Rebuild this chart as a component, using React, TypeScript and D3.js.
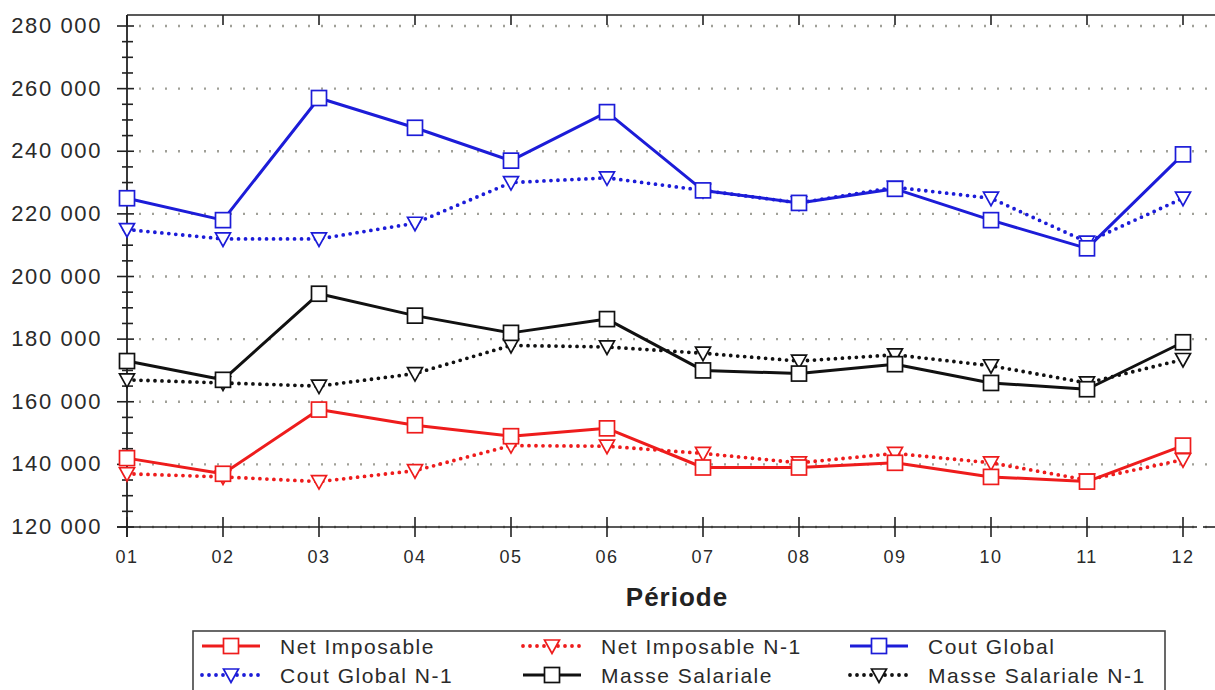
import React from "react";
import * as d3 from "d3";

const periods = ["01", "02", "03", "04", "05", "06", "07", "08", "09", "10", "11", "12"];
const netImposable = [142000, 137000, 157500, 152500, 149000, 151500, 139000, 139000, 140500, 136000, 134500, 146000];
const netImposableN1 = [137000, 136000, 134500, 138000, 146000, 145800, 143500, 140500, 143500, 140500, 135000, 141500];
const coutGlobal = [225000, 218000, 257000, 247500, 237000, 252500, 227500, 223500, 228000, 218000, 209000, 239000];
const coutGlobalN1 = [215000, 212000, 212000, 217000, 230000, 231500, 227500, 223500, 228500, 225000, 211000, 225000];
const masseSalariale = [173000, 167000, 194500, 187500, 182000, 186400, 170000, 169000, 172000, 166000, 164000, 179000];
const masseSalarialeN1 = [167000, 166000, 165000, 169000, 178000, 177500, 175500, 173000, 175000, 171500, 166000, 173500];
const yTicks = [120000, 140000, 160000, 180000, 200000, 220000, 240000, 260000, 280000];

const RED = "#ee1c1c";
const BLUE = "#1c1cd8";
const BLACK = "#111111";

type Series = { name: string; values: number[]; color: string; dotted: boolean };
const series: Series[] = [
  { name: "Masse Salariale N-1", values: masseSalarialeN1, color: BLACK, dotted: true },
  { name: "Masse Salariale", values: masseSalariale, color: BLACK, dotted: false },
  { name: "Cout Global N-1", values: coutGlobalN1, color: BLUE, dotted: true },
  { name: "Cout Global", values: coutGlobal, color: BLUE, dotted: false },
  { name: "Net Imposable N-1", values: netImposableN1, color: RED, dotted: true },
  { name: "Net Imposable", values: netImposable, color: RED, dotted: false },
];
const legendOrder = ["Net Imposable", "Net Imposable N-1", "Cout Global", "Cout Global N-1", "Masse Salariale", "Masse Salariale N-1"];

const W = 1215;
const H = 690;
const x0 = 127;
const x1 = 1183;
const yTop = 26;
const yBot = 527;

const x = d3.scalePoint<string>().domain(periods).range([x0, x1]);
const y = d3.scaleLinear().domain([120000, 280000]).range([yBot, yTop]);
const minorTicks = d3.range(120000, 280001, 5000).filter((v) => v % 20000 !== 0);

const fmt = (v: number) => d3.format(",")(v).replace(/,/g, " ");

function Marker({ cx, cy, color, dotted }: { cx: number; cy: number; color: string; dotted: boolean }) {
  if (dotted) {
    const p = `M${cx - 7.5},${cy - 6} L${cx + 7.5},${cy - 6} L${cx},${cy + 7.5} Z`;
    return <path d={p} fill="#fff" stroke={color} strokeWidth={1.7} />;
  }
  return <rect x={cx - 7.5} y={cy - 7.5} width={15} height={15} fill="#fff" stroke={color} strokeWidth={1.7} />;
}

export default function App() {
  const line = d3
    .line<number>()
    .x((_, i) => x(periods[i]) as number)
    .y((d) => y(d));

  const textStyle = { fontFamily: "'Liberation Sans', Arial, sans-serif", fill: "#2a2a2a" };

  const legendCols = [202, 523, 850];
  const legendRows = [646, 675];

  return (
    <svg width={W} height={H} style={{ position: "absolute", left: 0, top: 0, background: "#fff" }}>
      <rect x={0} y={0} width={W} height={H} fill="#fff" />
      {/* grid */}
      {yTicks.map((t) => (
        <line
          key={"g" + t}
          x1={x0 + 12}
          x2={W}
          y1={y(t)}
          y2={y(t)}
          stroke="#a0a098"
          strokeWidth={2.4}
          strokeDasharray="2 11"
        />
      ))}
      {/* frame top */}
      <line x1={x0} x2={W} y1={15} y2={15} stroke="#222" strokeWidth={1.6} />
      {periods.map((p) => (
        <line key={"tt" + p} x1={x(p)} x2={x(p)} y1={15} y2={25} stroke="#222" strokeWidth={1.6} />
      ))}
      {/* y axis */}
      <line x1={x0} x2={x0} y1={15} y2={537} stroke="#222" strokeWidth={1.8} />
      {yTicks.map((t) => (
        <g key={"yt" + t}>
          <line x1={117} x2={134} y1={y(t)} y2={y(t)} stroke="#222" strokeWidth={1.6} />
          <text x={102} y={y(t) + 7} textAnchor="end" fontSize={22} letterSpacing={1.6} style={textStyle}>
            {fmt(t)}
          </text>
        </g>
      ))}
      {minorTicks.map((t) => (
        <line key={"mt" + t} x1={122} x2={133} y1={y(t)} y2={y(t)} stroke="#222" strokeWidth={1.6} />
      ))}
      {/* x axis */}
      <line x1={117} x2={1197} y1={yBot} y2={yBot} stroke="#222" strokeWidth={1.6} />
      <line x1={1203} x2={W} y1={yBot} y2={yBot} stroke="#222" strokeWidth={1.6} />
      {periods.map((p) => (
        <g key={"xt" + p}>
          <line x1={x(p)} x2={x(p)} y1={517} y2={537} stroke="#222" strokeWidth={1.6} />
          <text x={x(p)} y={563} textAnchor="middle" fontSize={18} letterSpacing={1.4} style={textStyle}>
            {p}
          </text>
        </g>
      ))}
      <text x={677} y={606} textAnchor="middle" fontSize={26} fontWeight="bold" letterSpacing={1} style={{ ...textStyle, fill: "#222" }}>
        Période
      </text>
      {/* series */}
      {series.map((s) => (
        <g key={s.name}>
          <path
            d={line(s.values) || ""}
            fill="none"
            stroke={s.color}
            strokeWidth={s.dotted ? 3.8 : 3}
            strokeDasharray={s.dotted ? "0 7" : undefined}
            strokeLinecap={s.dotted ? "round" : "butt"}
            strokeLinejoin="round"
          />
          {s.values.map((v, i) => (
            <Marker key={i} cx={x(periods[i]) as number} cy={y(v)} color={s.color} dotted={s.dotted} />
          ))}
        </g>
      ))}
      {/* legend */}
      <rect x={193} y={631} width={972} height={70} fill="#fff" stroke="#444" strokeWidth={1.6} />
      {legendOrder.map((name, i) => {
        const s = series.find((d) => d.name === name)!;
        const lx = legendCols[i % 3];
        const ly = legendRows[Math.floor(i / 3)];
        return (
          <g key={"lg" + name}>
            <line
              x1={lx}
              x2={lx + 58}
              y1={ly}
              y2={ly}
              stroke={s.color}
              strokeWidth={s.dotted ? 3.8 : 3}
              strokeDasharray={s.dotted ? "0 7" : undefined}
              strokeLinecap={s.dotted ? "round" : "butt"}
            />
            <Marker cx={lx + 29} cy={ly} color={s.color} dotted={s.dotted} />
            <text x={lx + 78} y={ly + 8} fontSize={21} letterSpacing={1.5} style={textStyle}>
              {name}
            </text>
          </g>
        );
      })}
    </svg>
  );
}
